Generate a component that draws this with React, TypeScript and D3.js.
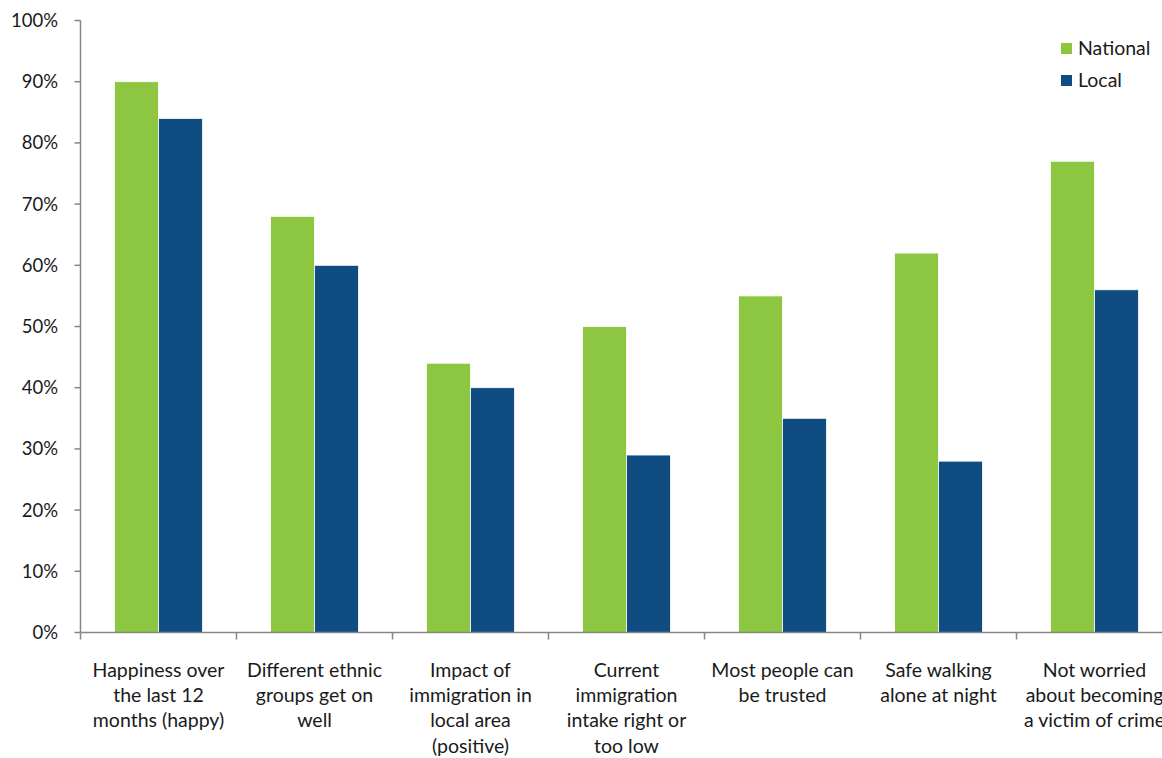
import React from "react";
import * as d3 from "d3";

const categories: string[][] = [
  ["Happiness over", "the last 12", "months (happy)"],
  ["Different ethnic", "groups get on", "well"],
  ["Impact of", "immigration in", "local area", "(positive)"],
  ["Current", "immigration", "intake right or", "too low"],
  ["Most people can", "be trusted"],
  ["Safe walking", "alone at night"],
  ["Not worried", "about becoming", "a victim of crime"],
];
const national: number[] = [90, 68, 44, 50, 55, 62, 77];
const local: number[] = [84, 60, 40, 29, 35, 28, 56];
const yTicks: number[] = [0, 10, 20, 30, 40, 50, 60, 70, 80, 90, 100];
const seriesNames: string[] = ["National", "Local"];
const seriesColors: string[] = ["#8DC641", "#0F4C81"];

const W = 1162;
const H = 758;
const FONT = "Lato, 'Noto Sans', sans-serif";

export default function App() {
  const left = 80.5;
  const top = 20.5;
  const bottom = 632.5;
  const band = 156;
  const idx = categories.map((_, i) => String(i));
  const x = d3
    .scaleBand<string>()
    .domain(idx)
    .range([left, left + band * categories.length])
    .paddingInner(0)
    .paddingOuter(0);
  const inner = d3
    .scaleBand<string>()
    .domain(seriesNames)
    .range([0, band])
    .paddingInner(0)
    .paddingOuter(34 / 44);
  const y = d3.scaleLinear().domain([0, 100]).range([bottom, top]);
  const series = [national, local];

  return (
    <svg
      width={W}
      height={H}
      style={{ position: "absolute", left: 0, top: 0, background: "#fff" }}
      fontFamily={FONT}
    >
      {/* bars */}
      {series.map((vals, s) =>
        vals.map((v, i) => (
          <rect
            key={`${s}-${i}`}
            x={(x(String(i)) as number) + (inner(seriesNames[s]) as number)}
            y={y(v)}
            width={inner.bandwidth()}
            height={bottom - y(v)}
            fill={seriesColors[s]}
            stroke="#ffffff"
            strokeWidth={0.8}
          />
        ))
      )}
      {/* y axis */}
      <line x1={left} x2={left} y1={top} y2={bottom} stroke="#868686" strokeWidth={1.5} />
      {yTicks.map((t) => (
        <g key={t}>
          <line x1={left - 6} x2={left} y1={y(t)} y2={y(t)} stroke="#868686" strokeWidth={1.5} />
          <text
            x={58}
            y={y(t)}
            dy="0.35em"
            textAnchor="end"
            fontSize={18.5}
            fill="#1a1a1a"
          >
            {t}%
          </text>
        </g>
      ))}
      {/* x axis */}
      <line x1={left} x2={W} y1={bottom} y2={bottom} stroke="#868686" strokeWidth={1.5} />
      {idx.map((k) => (
        <line
          key={k}
          x1={x(k) as number}
          x2={x(k) as number}
          y1={bottom}
          y2={bottom + 7}
          stroke="#868686"
          strokeWidth={1.5}
        />
      ))}
      {categories.map((lines, i) => (
        <text
          key={i}
          x={(x(String(i)) as number) + x.bandwidth() / 2}
          y={676.5}
          textAnchor="middle"
          fontSize={19.5}
          fill="#1a1a1a"
        >
          {lines.map((l, j) => (
            <tspan key={j} x={(x(String(i)) as number) + x.bandwidth() / 2} dy={j === 0 ? 0 : 25.4}>
              {l}
            </tspan>
          ))}
        </text>
      ))}
      {/* legend */}
      {seriesNames.map((n, s) => (
        <g key={n} transform={`translate(1061, ${43 + s * 32})`}>
          <rect x={0} y={0} width={11} height={11} fill={seriesColors[s]} />
          <text x={17} y={11.5} fontSize={19.5} fill="#1a1a1a">
            {n}
          </text>
        </g>
      ))}
    </svg>
  );
}
